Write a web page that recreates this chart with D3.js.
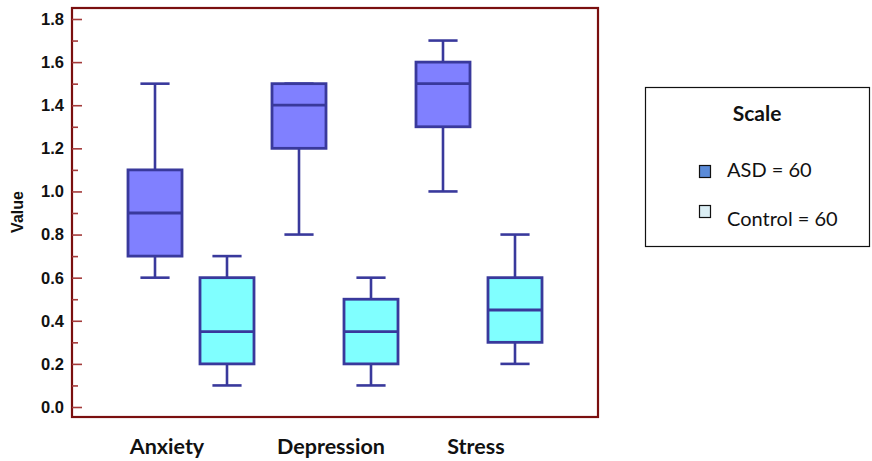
<!DOCTYPE html>
<html>
<head>
<meta charset="utf-8">
<script src="https://cdn.jsdelivr.net/npm/d3@7"></script>
<style>
  html, body { margin: 0; padding: 0; background: #fff; }
  svg { display: block; }
</style>
</head>
<body>
<svg id="chart" width="872" height="461"></svg>
<script>
// Scales of the questionnaire and the two groups
const categories = ["Anxiety", "Depression", "Stress"];
const groups = ["ASD", "Control"];

// Five-number summaries per scale: [min, Q1, median, Q3, max]
const asdStats = [
  [0.6, 0.7, 0.9, 1.1, 1.5],
  [0.8, 1.2, 1.4, 1.5, 1.5],
  [1.0, 1.3, 1.5, 1.6, 1.7]
];
const controlStats = [
  [0.1, 0.2, 0.35, 0.6, 0.7],
  [0.1, 0.2, 0.35, 0.5, 0.6],
  [0.2, 0.3, 0.45, 0.6, 0.8]
];

const yTicks = [0.0, 0.2, 0.4, 0.6, 0.8, 1.0, 1.2, 1.4, 1.6, 1.8];
const legendLabels = ["ASD = 60", "Control = 60"];

const svg = d3.select("#chart");

const frame = { left: 72, right: 598, top: 8, bottom: 417 };

const y = d3.scaleLinear().domain([0, 1.8]).range([407, 19]);

// Outer band per scale, inner band per group
const x = d3.scaleBand().domain(categories).range([119, 551]).paddingInner(0).paddingOuter(0);
const xg = d3.scaleBand().domain(groups).range([0, x.bandwidth()]).paddingInner(0.25).paddingOuter(0.125);
const labelX = d3.scaleOrdinal().domain(categories).range([167, 331, 476]);

const boxFill = { ASD: "#8080ff", Control: "#80ffff" };
const boxStroke = "#39399c";

// Plot frame
svg.append("rect")
  .attr("x", frame.left).attr("y", frame.top)
  .attr("width", frame.right - frame.left).attr("height", frame.bottom - frame.top)
  .attr("fill", "none").attr("stroke", "#7a0f0f").attr("stroke-width", 2.2);

// Y axis: major ticks with labels, minor ticks between
const yAxis = d3.axisRight(y)
  .tickValues(yTicks)
  .tickSize(10)
  .tickFormat("");
const yMinor = d3.axisRight(y)
  .tickValues(d3.range(1, 18, 2).map(v => v / 10))
  .tickSize(6)
  .tickFormat("");

[yAxis, yMinor].forEach(ax => {
  const g = svg.append("g").attr("transform", `translate(${frame.left},0)`).call(ax);
  g.select(".domain").remove();
  g.selectAll(".tick line").attr("stroke", "#a33a3a").attr("stroke-width", 1.6);
});

svg.append("g").selectAll("text")
  .data(yTicks)
  .join("text")
  .attr("x", 64)
  .attr("y", d => y(d))
  .attr("dy", "0.36em")
  .attr("text-anchor", "end")
  .attr("font-family", "'Liberation Sans', Arial, sans-serif")
  .attr("font-weight", "bold")
  .attr("font-size", 16.5)
  .attr("fill", "#111")
  .text(d => d3.format(".1f")(d));

svg.append("text")
  .attr("transform", "translate(23,212) rotate(-90)")
  .attr("text-anchor", "middle")
  .attr("font-family", "'Liberation Sans', Arial, sans-serif")
  .attr("font-weight", "bold")
  .attr("font-size", 16)
  .attr("fill", "#111")
  .text("Value");

// Category labels
svg.append("g").selectAll("text")
  .data(categories)
  .join("text")
  .attr("x", d => labelX(d))
  .attr("y", 454)
  .attr("text-anchor", "middle")
  .attr("font-family", "Lato, 'Open Sans', sans-serif")
  .attr("font-weight", "bold")
  .attr("font-size", 21.5)
  .attr("fill", "#111")
  .text(d => d);

// Box plots
const boxes = [];
categories.forEach((c, i) => {
  boxes.push({ cat: c, group: "ASD", s: asdStats[i] });
  boxes.push({ cat: c, group: "Control", s: controlStats[i] });
});

const bw = xg.bandwidth();
const capW = bw * 0.54;

const bg = svg.append("g").selectAll("g")
  .data(boxes)
  .join("g")
  .attr("transform", d => `translate(${x(d.cat) + xg(d.group)},0)`);

// whiskers
bg.append("line")
  .attr("x1", bw / 2).attr("x2", bw / 2)
  .attr("y1", d => y(d.s[4])).attr("y2", d => y(d.s[3]))
  .attr("stroke", boxStroke).attr("stroke-width", 2.6);
bg.append("line")
  .attr("x1", bw / 2).attr("x2", bw / 2)
  .attr("y1", d => y(d.s[1])).attr("y2", d => y(d.s[0]))
  .attr("stroke", boxStroke).attr("stroke-width", 2.6);
// caps
bg.append("line")
  .attr("x1", bw / 2 - capW / 2).attr("x2", bw / 2 + capW / 2)
  .attr("y1", d => y(d.s[4])).attr("y2", d => y(d.s[4]))
  .attr("stroke", boxStroke).attr("stroke-width", 2.6);
bg.append("line")
  .attr("x1", bw / 2 - capW / 2).attr("x2", bw / 2 + capW / 2)
  .attr("y1", d => y(d.s[0])).attr("y2", d => y(d.s[0]))
  .attr("stroke", boxStroke).attr("stroke-width", 2.6);
// box
bg.append("rect")
  .attr("x", 0).attr("width", bw)
  .attr("y", d => y(d.s[3]))
  .attr("height", d => y(d.s[1]) - y(d.s[3]))
  .attr("fill", d => boxFill[d.group])
  .attr("stroke", boxStroke).attr("stroke-width", 2.8);
// median
bg.append("line")
  .attr("x1", 0).attr("x2", bw)
  .attr("y1", d => y(d.s[2])).attr("y2", d => y(d.s[2]))
  .attr("stroke", boxStroke).attr("stroke-width", 2.8);

// Legend
const legend = svg.append("g");
legend.append("rect")
  .attr("x", 645.5).attr("y", 87.5).attr("width", 224).attr("height", 159)
  .attr("fill", "#fff").attr("stroke", "#111").attr("stroke-width", 1.2);
legend.append("text")
  .attr("x", 757).attr("y", 121)
  .attr("text-anchor", "middle")
  .attr("font-family", "Lato, 'Open Sans', sans-serif")
  .attr("font-weight", "bold")
  .attr("font-size", 21)
  .attr("fill", "#111")
  .text("Scale");

const legendSwatch = d3.scaleOrdinal().domain(groups).range(["#5b8bd8", "#dbeef4"]);
const legendRow = d3.scalePoint().domain(groups).range([172, 212]);
const legendBaseline = d3.scalePoint().domain(groups).range([177, 226]);

const items = legend.selectAll("g.item")
  .data(groups)
  .join("g")
  .attr("class", "item");
items.append("rect")
  .attr("x", 699.5).attr("y", d => legendRow(d) - 6.5).attr("width", 11).attr("height", 12)
  .attr("fill", d => legendSwatch(d))
  .attr("stroke", "#111").attr("stroke-width", 1.2);
items.append("text")
  .attr("x", 727).attr("y", d => legendBaseline(d))
  .attr("font-family", "Lato, 'Open Sans', sans-serif")
  .attr("font-size", 20)
  .attr("fill", "#111")
  .text((d, i) => legendLabels[i]);
</script>
</body>
</html>
